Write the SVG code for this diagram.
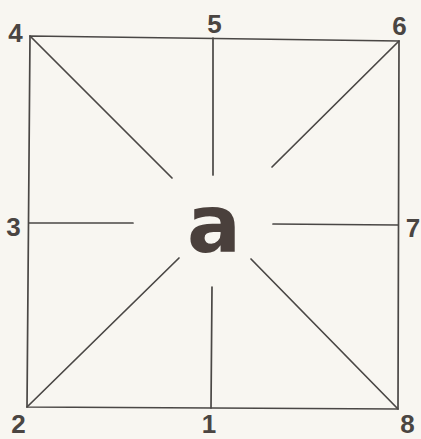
<svg xmlns="http://www.w3.org/2000/svg" width="421" height="439" viewBox="0 0 421 439">
<style>
.ln{stroke:#4a4745;stroke-width:1.7;fill:none;stroke-linecap:round}
.num{font-family:"Liberation Sans",Arial,sans-serif;font-weight:bold;font-size:26px;fill:#4a4542;text-anchor:middle}
.ctr{font-family:"DejaVu Sans",sans-serif;font-weight:bold;font-size:80px;fill:#4a403c;text-anchor:middle}
</style>
<rect width="421" height="439" fill="#f8f6f1"/>
<g id="connectors">
<polygon class="ln" points="30,36 399,41 398,409 27,407"/>
<line class="ln" x1="213" y1="38" x2="213" y2="175"/>
<line class="ln" x1="212" y1="287" x2="211" y2="408"/>
<line class="ln" x1="29" y1="223" x2="133" y2="223"/>
<line class="ln" x1="273" y1="224" x2="398" y2="225"/>
<line class="ln" x1="30" y1="36" x2="172" y2="178"/>
<line class="ln" x1="399" y1="41" x2="272" y2="167"/>
<line class="ln" x1="27" y1="407" x2="179" y2="258"/>
<line class="ln" x1="398" y1="409" x2="251" y2="259"/>
</g>
<g id="n4"><text class="num" x="15.5" y="42">4</text></g>
<g id="n5"><text class="num" x="214.5" y="33">5</text></g>
<g id="n6"><text class="num" x="399.5" y="35">6</text></g>
<g id="n3"><text class="num" x="13.5" y="236">3</text></g>
<g id="n7"><text class="num" x="413" y="237">7</text></g>
<g id="n2"><text class="num" x="18.5" y="433">2</text></g>
<g id="n1"><text class="num" x="209" y="433">1</text></g>
<g id="n8"><text class="num" x="407.5" y="433">8</text></g>
<g id="center"><text class="ctr" x="214" y="252">a</text></g>
</svg>
